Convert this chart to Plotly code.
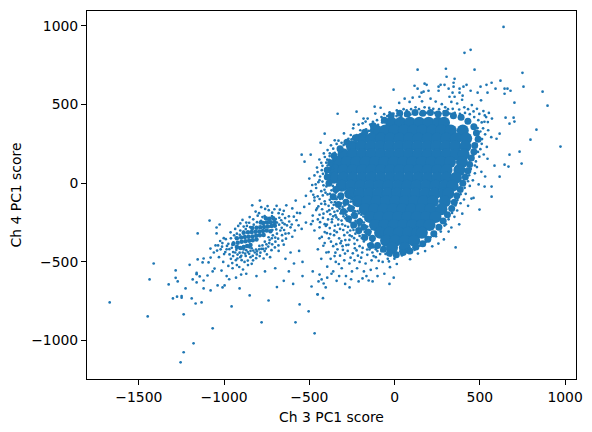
import plotly.graph_objects as go

# Scores (Ch 3 PC1 score, Ch 4 PC1 score)
outliers = [
(-1671,-757),(-1448,-846),(-1437,-611),(-1413,-510),(-1325,-643),(-1284,-554),(-1284,-601),(-1272,-624),
(-1300,-732),(-1276,-721),(-1249,-717),(-1249,-727),(-1237,-833),(-1226,-668),(-1202,-518),(-1190,-732),
(-1167,-764),(-1132,-757),(-1179,-1017),(-1237,-1074),(-1255,-1138),(-1067,-922),(-956,-783),(-850,-713),
(-739,-745),(-780,-884),(-581,-884),(-557,-770),(-504,-814),(-469,-954),(-452,-706),(-909,-668),
(-1085,-237),(-1155,-319),(-1026,-262),(-1044,-281),(-1044,-319),(-1155,-484),(-1161,-570),(-1161,-578),
(-1184,-611),(-1143,-592),(-1120,-618),(-1161,-630),(-1120,-668),(-1079,-681),(-1038,-649),(-1009,-662),
(-997,-649),(-1097,-586),(-1067,-560),(-1120,-478),(-1126,-503),(-1091,-503),(-1079,-472),(-1056,-542),
(639,994),(446,848),(410,829),(135,722),(301,728),(305,677),(469,722),(750,702),(756,614),(868,582),
(897,493),(832,341),(797,277),(973,233),(-6,595),(-334,442),(-223,455),(-410,315),(-434,258),(703,512),
(698,417),(703,392),(674,379),(651,417),(621,652),(569,639),(539,626),(504,614),(446,588),(592,601),
(645,601),(662,601),(680,588),(645,569),(545,576),(487,576),(422,626),(404,614),(381,601),(381,576),
(352,664),(346,639),(346,614),(317,601),(340,576),(399,557),(322,550),(352,550),(258,614),(258,588),
(270,626),(293,626),(117,620),(176,633),(188,626),(135,601),(170,582),(199,588),(158,576),(211,538),
(106,544),(59,538),(146,550),(-117,487),(-82,480),(-182,411),(-158,411),(-170,392),(-240,373),(-211,373),
(358,-408),(498,-167),(569,-85),(451,-97),(616,42),(528,-21),(569,-21),(586,112),(645,118),(668,106),
(745,125),(674,182),(733,201),(545,156),(616,315),(598,283),(-451,-707),(-264,-662),(-487,-656),(-404,-662),
(-416,-637),(-428,-611),(-446,-624),(-545,182),(-492,182),(-528,137),(-211,-624),(-188,-605),(-152,-618),(-129,-624),
(-30,-640),(-420,-730),(-480,-560),(-540,-590),(-595,-640),(-620,-560),(-650,-620),(-690,-660),(-640,-480),(-700,-540),
(-760,-560),(-810,-590),(-730,-470),(-590,-510),(-540,-500),(-560,-430),(-610,-440),(-600,-340),(-650,-390),(-680,-430),
]

left_cluster = [
(-1000,-450),(-1020,-420),(-1035,-395),(-1010,-380),(-985,-420),(-960,-480),(-1005,-500),(-975,-525),(-950,-540),(-925,-520),
(-905,-470),(-880,-500),(-860,-520),(-845,-470),(-830,-490),(-890,-440),(-935,-440),(-955,-410),(-975,-385),(-990,-355),
(-960,-350),(-945,-375),(-920,-405),(-900,-415),(-870,-425),(-845,-430),(-820,-440),(-795,-420),(-775,-395),(-755,-415),
(-735,-380),(-720,-350),(-700,-345),(-690,-320),(-670,-300),(-660,-330),(-645,-260),(-665,-235),(-690,-250),(-710,-265),
(-735,-275),(-755,-245),(-775,-215),(-795,-190),(-815,-180),(-850,-215),(-870,-250),(-885,-275),(-905,-300),(-925,-320),
(-935,-290),(-905,-255),(-835,-140),(-790,-110),(-745,-145),(-705,-165),(-680,-190),(-650,-175),(-620,-210),(-635,-140),
(-600,-160),(-575,-235),(-610,-280),(-640,-320),(-585,-300),(-545,-290),(-520,-250),(-490,-260),(-555,-190),(-530,-150),
(-500,-130),(-480,-205),(-455,-160),(-520,-80),(-580,-110),(-470,-90),(-430,-130),(-440,-200),(-410,-260),(-405,-60),
(-1060,-440),(-1080,-415),(-1050,-395),(-1030,-470),(-1015,-555),(-985,-590),(-930,-600),(-900,-580),(-970,-610),(-870,-575),
(-1012,-403),(-993,-437),(-968,-452),(-947,-463),(-922,-478),(-897,-489),(-873,-462),(-853,-448),(-832,-461),(-808,-452),
(-787,-441),(-762,-431),(-741,-402),(-718,-388),(-699,-371),(-683,-352),(-662,-283),(-648,-297),(-631,-268),(-618,-243),
(-642,-221),(-657,-197),(-673,-168),(-692,-143),(-718,-187),(-738,-171),(-759,-163),(-782,-152),(-803,-206),(-829,-229),
(-853,-251),(-873,-291),(-892,-233),(-917,-271),(-941,-331),(-962,-312),(-983,-398),(-1002,-349),(-1023,-367),(-1041,-428),
(-952,-507),(-931,-489),(-911,-532),(-889,-548),(-861,-491),(-838,-512),(-812,-476),(-791,-463),(-768,-478),(-749,-452),
(-722,-425),(-702,-408),(-681,-395),(-658,-365),(-637,-352),(-621,-318),(-603,-262),(-591,-212),(-572,-188),(-563,-267),
(-947,-437),(-928,-423),(-909,-441),(-886,-421),(-861,-437),(-838,-413),(-813,-421),(-793,-398),(-771,-417),(-752,-388),
(-733,-361),(-714,-331),(-694,-293),(-677,-263),(-657,-251),(-676,-219),(-697,-227),(-719,-209),(-741,-231),(-762,-209),
(-783,-239),(-807,-247),(-826,-263),(-847,-279),(-866,-271),(-886,-307),(-908,-327),(-931,-347),(-951,-391),(-969,-419),
(-921,-453),(-899,-461),(-877,-447),(-851,-408),(-829,-428),(-807,-433),(-781,-417),(-761,-371),(-739,-343),(-717,-297),
]

lower_speckle = [
(-450,-420),(-430,-480),(-395,-530),(-370,-575),(-340,-620),(-310,-540),(-285,-590),(-250,-560),(-220,-540),(-180,-560),
(-140,-550),(-105,-540),(-70,-500),(-40,-480),(-400,-440),(-375,-480),(-345,-500),(-320,-460),(-295,-490),(-265,-510),
(-235,-490),(-205,-500),(-170,-510),(-135,-490),(-110,-470),(-85,-450),(-360,-400),(-335,-420),(-305,-400),(-275,-430),
(-245,-445),(-215,-460),(-190,-440),(-160,-455),(-130,-440),(-110,-420),(-440,-350),(-410,-380),(-385,-350),(-355,-330),
(-325,-350),(-295,-330),(-265,-360),(-235,-385),(-205,-400),(-180,-370),(-155,-390),(-130,-370),(-470,-300),(-440,-280),
(-410,-310),(-380,-285),(-350,-270),(-320,-290),(-290,-270),(-260,-300),(-230,-320),(-205,-335),(-175,-310),(-150,-330),
(-480,-240),(-450,-230),(-420,-220),(-390,-230),(-360,-210),(-330,-230),(-300,-210),(-270,-240),(-240,-260),(-210,-270),
(-180,-250),(-160,-275),(-460,-170),(-425,-165),(-395,-180),(-365,-160),(-335,-175),(-305,-150),(-280,-180),(-250,-200),
(-225,-215),(-195,-200),(-470,-110),(-440,-100),(-410,-115),(-380,-105),(-350,-120),(-320,-100),(-295,-125),(-265,-140),
(-240,-155),(-490,-50),(-460,-30),(-430,-50),(-400,-20),(-370,-45),(-345,-60),(-320,-70),(-500,30),(-470,50),
(-440,20),(-420,60),(-455,100),(-430,130),(-405,90),(-395,150),(-415,190),(-380,190),(-360,220),(-340,250),
(-387,-437),(-352,-463),(-327,-513),(-291,-447),(-258,-473),(-223,-427),(-196,-473),(-147,-421),(-123,-463),(-93,-493),
(-418,-397),(-373,-371),(-342,-387),(-312,-367),(-283,-393),(-251,-337),(-219,-361),(-193,-348),(-167,-352),(-142,-307),
(-427,-341),(-397,-317),(-368,-247),(-339,-311),(-307,-261),(-277,-313),(-247,-281),(-221,-293),(-191,-287),(-169,-232),
(-437,-247),(-403,-271),(-377,-197),(-347,-203),(-317,-191),(-289,-223),(-259,-247),(-229,-239),(-203,-227),(-183,-211),
(-447,-147),(-417,-193),(-387,-143),(-357,-137),(-327,-143),(-301,-173),(-273,-161),(-243,-187),(-217,-177),(-257,-117),
(-477,-73),(-451,-83),(-421,-77),(-393,-71),(-363,-83),(-333,-89),(-307,-97),(-283,-107),(-262,-89),(-287,-61),
(-483,-11),(-447,7),(-417,-13),(-386,3),(-437,43),(-403,37),(-392,-5),(-463,-7),(-378,57),(-362,-17),
(-452,71),(-427,83),(-393,113),(-372,127),(-441,151),(-409,167),(-383,149),(-363,171),(-351,193),(-393,211),
(-373,241),(-351,273),(-329,271),(-311,257),(-297,317),(-271,283),(-257,307),(-243,349),(-222,307),(-201,337),
(-187,381),(-167,343),(-143,373),(-127,391),(-103,401),(-113,443),(-77,421),(-61,439),(-43,427),(-29,451),
(-7,443),(13,463),(31,447),(27,511),(53,471),(71,463),(88,517),(97,471),(123,483),(143,471),(161,521),(176,483),
(203,479),(227,473),(241,519),(261,471),(277,503),(297,483),(313,471),(333,517),(341,473),(367,507),(379,469),
(396,531),(409,483),(431,471),(453,497),(463,457),(483,473),(497,441),(507,527),(521,459),(529,431),(553,447),
(571,411),(547,389),(537,421),(527,391),(519,349),(549,337),(531,311),(567,293),(513,281),(541,231),(503,217),
(523,183),(497,169),(477,139),(509,73),(483,103),(471,63),(531,43),(459,19),(493,-7),(441,-17),(463,-93),
(417,-67),(431,-143),(387,-127),(407,-103),(397,-193),(367,-173),(351,-213),(379,-261),(333,-281),(301,-261),
(317,-307),(271,-307),(289,-357),(243,-337),(257,-383),(201,-367),(221,-401),(161,-393),(179,-431),(117,-423),
(137,-447),(83,-443),(91,-483),(43,-459),(-1,-479),(13,-513),(-33,-497),(-27,-533),
(-360,-560),(-325,-590),(-290,-640),(-255,-610),(-165,-590),(-100,-590),(-60,-575),(-5,-600),(-395,-600),(-440,-580),
(-347,-441),(-303,-423),(-271,-391),(-233,-413),(-187,-411),(-161,-421),(-137,-397),(-317,-381),(-289,-361),(-263,-331),
(-237,-349),(-211,-317),(-187,-329),(-377,-323),(-353,-301),(-331,-263),(-301,-297),(-273,-277),(-241,-297),(-217,-247),
(-193,-267),(-397,-263),(-367,-229),(-341,-217),(-311,-237),(-283,-201),(-263,-217),(-233,-177),(-209,-191),(-383,-171),
(-353,-181),(-323,-161),(-293,-141),(-267,-171),(-237,-133),(-407,-133),(-371,-121),(-341,-101),(-313,-127),(-281,-83),
(-251,-101),(-411,-41),(-379,-67),(-353,-29),(-333,-43),(-307,-41),(-423,11),(-401,61),(-383,87),(-423,111),(-401,131),
(-363,97),(-381,173),(-349,153),(-329,211),(-299,243),(-277,263),(-253,279),(-227,263),(-203,303),(-177,301),(-151,333),
(-129,339),(-97,371),(-73,387),(-47,399),(-21,411),(11,427),(39,423),(63,431),(93,437),(127,449),(153,439),(187,447),
(213,441),(237,447),(269,443),(289,457),(323,443),(353,447),(383,441),(413,447),(441,439),(467,421),(491,401),(511,387),
(487,351),(503,329),(489,301),(511,251),(481,247),(489,199),(463,181),(471,113),(447,91),(437,51),(431,13),(411,-29),
(387,-69),(369,-107),(357,-141),(337,-189),(317,-229),(293,-269),(267,-283),(239,-311),(211,-343),(183,-371),(147,-397),
(111,-409),(71,-421),(33,-433),(5,-437),(-23,-459),(-53,-449),(-77,-431),(-101,-431),(-121,-407),
]

# Wider marks along the edge of the solid area, where the points merge
mid_band = [
(-60,400),(-20,430),(30,445),(75,440),(120,450),(165,445),(210,450),(255,440),(300,445),(345,430),(390,420),(430,395),
(465,360),(480,320),(490,280),(470,240),(465,200),(450,160),(440,120),(430,80),(415,40),(400,0),(385,-40),(365,-80),
(350,-120),(335,-160),(310,-200),(285,-240),(260,-280),(230,-320),(195,-355),(165,-385),(125,-405),(90,-430),(50,-440),
(10,-455),(-30,-445),(-65,-420),(-100,-395),(-130,-350),(-155,-310),(-180,-280),(-205,-245),(-235,-205),(-255,-160),
(-285,-120),(-315,-80),(-345,-40),(-385,0),(-395,40),(-395,85),(-375,130),(-355,175),(-320,220),(-280,260),(-230,290),
(-175,325),(-125,365),(-140,-395),(-175,-345),(-210,-300),(-240,-265),(-270,-225),(-300,-180),(-330,-135),(-360,-85),
]

# Solid centre of the main cloud: overlapping wide marks, read row by row
core = [
(-20,385),(35,385),(90,385),(145,385),(200,385),(255,385),(290,385),
(-110,335),(-55,335),(0,335),(55,335),(110,335),(165,335),(220,335),(275,335),(330,335),(400,335),
(-190,285),(-135,285),(-80,285),(-25,285),(30,285),(85,285),(140,285),(195,285),(250,285),(305,285),(360,285),(420,285),
(-250,235),(-195,235),(-140,235),(-85,235),(-30,235),(25,235),(80,235),(135,235),(190,235),(245,235),(300,235),(355,235),(415,235),
(-300,185),(-245,185),(-190,185),(-135,185),(-80,185),(-25,185),(30,185),(85,185),(140,185),(195,185),(250,185),(305,185),(360,185),(405,185),
(-335,135),(-280,135),(-225,135),(-170,135),(-115,135),(-60,135),(-5,135),(50,135),(105,135),(160,135),(215,135),(270,135),(325,135),(395,135),
(-355,85),(-300,85),(-245,85),(-190,85),(-135,85),(-80,85),(-25,85),(30,85),(85,85),(140,85),(195,85),(250,85),(305,85),(380,85),
(-355,35),(-300,35),(-245,35),(-190,35),(-135,35),(-80,35),(-25,35),(30,35),(85,35),(140,35),(195,35),(250,35),(305,35),(360,35),
(-310,-15),(-255,-15),(-200,-15),(-145,-15),(-90,-15),(-35,-15),(20,-15),(75,-15),(130,-15),(185,-15),(240,-15),(295,-15),(340,-15),
(-260,-65),(-205,-65),(-150,-65),(-95,-65),(-40,-65),(15,-65),(70,-65),(125,-65),(180,-65),(235,-65),(290,-65),(315,-65),
(-215,-115),(-160,-115),(-105,-115),(-50,-115),(5,-115),(60,-115),(115,-115),(170,-115),(225,-115),(295,-115),
(-175,-165),(-120,-165),(-65,-165),(-10,-165),(45,-165),(100,-165),(155,-165),(210,-165),(275,-165),
(-145,-215),(-90,-215),(-35,-215),(20,-215),(75,-215),(130,-215),(185,-215),(240,-215),
(-115,-265),(-60,-265),(-5,-265),(50,-265),(105,-265),(160,-265),(205,-265),
(-85,-315),(-30,-315),(25,-315),(80,-315),(135,-315),(160,-315),
(-50,-365),(5,-365),(60,-365),(115,-365),
(-15,-410),(60,-410),
]
core_x = [p[0] for p in core]
core_y = [p[1] for p in core]

left_core = [
(-925,-405),(-905,-412),(-885,-405),(-865,-398),(-845,-392),
(-945,-385),(-920,-378),(-897,-372),(-875,-368),(-853,-366),(-832,-362),(-810,-358),
(-925,-350),(-900,-345),(-878,-342),(-856,-340),(-834,-338),(-812,-334),(-790,-330),(-768,-328),
(-885,-315),(-860,-312),(-838,-310),(-816,-308),(-794,-306),(-772,-303),(-750,-300),(-728,-305),
(-835,-285),(-810,-282),(-788,-280),(-766,-278),(-744,-275),(-722,-272),(-702,-270),
(-785,-250),(-770,-252),(-748,-250),(-726,-248),(-704,-246),
(-755,-222),(-735,-225),(-712,-222),
]
left_core_x = [p[0] for p in left_core]
left_core_y = [p[1] for p in left_core]

x_ticks = [-1500, -1000, -500, 0, 500, 1000]
y_ticks = [-1000, -500, 0, 500, 1000]
x_title = "Ch 3 PC1 score"
y_title = "Ch 4 PC1 score"
BLUE = "#1f77b4"

scatter = outliers + left_cluster + lower_speckle

fig = go.Figure()
fig.add_trace(go.Scatter(x=core_x, y=core_y, mode="markers", hoverinfo="skip",
                         marker=dict(size=12, color=BLUE, line_width=0)))
fig.add_trace(go.Scatter(x=[p[0] for p in mid_band], y=[p[1] for p in mid_band], mode="markers", hoverinfo="skip",
                         marker=dict(size=7, color=BLUE, line_width=0)))
fig.add_trace(go.Scatter(x=left_core_x, y=left_core_y, mode="markers", hoverinfo="skip",
                         marker=dict(size=4.5, color=BLUE, line_width=0)))
fig.add_trace(go.Scatter(x=[p[0] for p in scatter], y=[p[1] for p in scatter], mode="markers",
                         marker=dict(size=2.7, color=BLUE, line_width=0)))

axis = dict(showgrid=False, zeroline=False, showline=True, mirror=True, linecolor="black", linewidth=1,
            ticks="outside", ticklen=5, tickwidth=1, tickcolor="black",
            tickfont=dict(size=13.9, color="black"))
fig.update_layout(
    width=592, height=432, showlegend=False, plot_bgcolor="white", paper_bgcolor="white",
    font=dict(family="DejaVu Sans", size=13.9, color="black"),
    margin=dict(l=78.5, r=24, t=2.5, b=61, pad=0),
    xaxis=dict(axis, range=[-1804, 1064], tickmode="array", tickvals=x_ticks,
               title=dict(text=x_title, standoff=8, font=dict(size=13.9))),
    yaxis=dict(axis, range=[-1244, 1095], tickmode="array", tickvals=y_ticks,
               title=dict(text=y_title, standoff=7, font=dict(size=13.9))),
)
fig.write_html("out.html")
